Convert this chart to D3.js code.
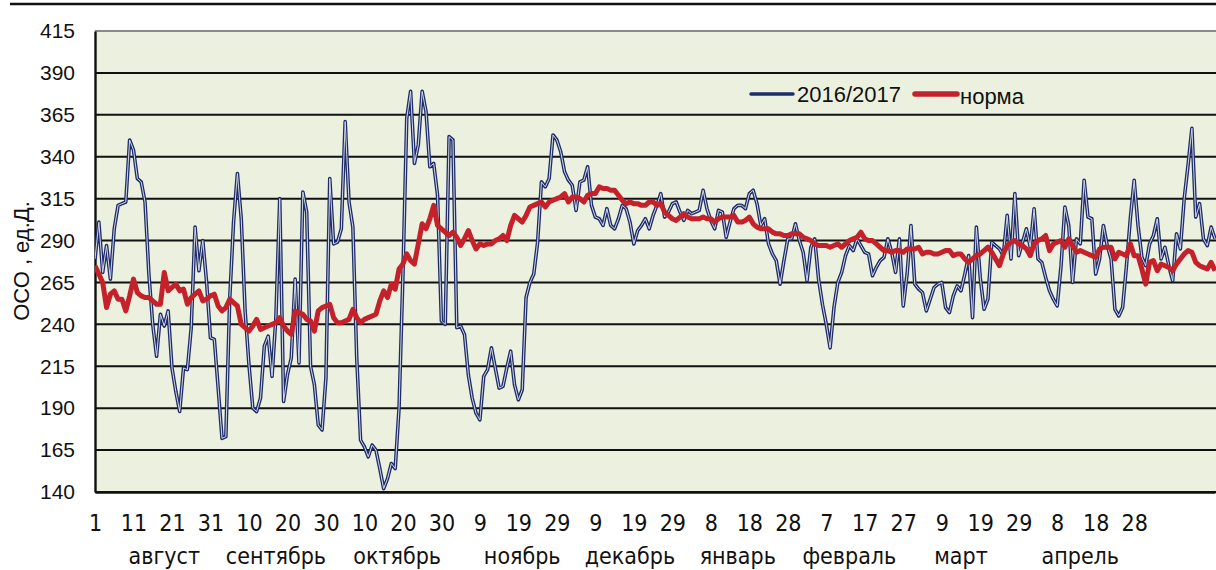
<!DOCTYPE html>
<html>
<head>
<meta charset="utf-8">
<script src="https://cdn.jsdelivr.net/npm/d3@7"></script>
<style>
  html, body { margin: 0; padding: 0; background: #fff; }
  svg { display: block; }
  text { font-family: "Liberation Sans", Arial, sans-serif; fill: #111; }
  .narrow { font-family: "Liberation Sans Narrow", "DejaVu Sans Condensed", "Liberation Sans", sans-serif; }
</style>
</head>
<body>
<svg id="chart" width="1216" height="570"></svg>
<script>
// total ozone, daily values from 1 August 2016
const season = [
  279, 301, 271, 287, 267, 297, 311, 312, 313, 350, 344, 327, 325, 313, 270, 240, 221, 246, 239, 248,
  214, 200, 188, 214, 213, 238, 298, 272, 290, 265, 232, 231, 202, 172, 173, 255, 301, 330, 303, 248,
  216, 190, 188, 196, 227, 233, 209, 244, 315, 194, 210, 220, 267, 217, 319, 307, 215, 204, 180, 177,
  208, 327, 288, 289, 297, 361, 313, 298, 220, 171, 167, 161, 168, 165, 154, 142, 148, 157, 154, 190,
  269, 363, 379, 336, 347, 379, 367, 334, 336, 317, 242, 240, 352, 350, 238, 239, 234, 210, 196, 187,
  183, 209, 213, 226, 214, 202, 203, 214, 224, 204, 195, 201, 256, 265, 270, 289, 325, 322, 327, 353,
  350, 343, 331, 326, 323, 308, 325, 326, 334, 311, 304, 303, 299, 309, 299, 297, 303, 311, 309, 301,
  288, 296, 299, 303, 297, 305, 311, 318, 304, 307, 312, 313, 307, 302, 308, 306, 307, 308, 320, 309,
  302, 297, 308, 307, 292, 301, 309, 311, 311, 309, 318, 320, 312, 299, 303, 288, 282, 278, 264, 278,
  291, 291, 300, 290, 283, 266, 286, 291, 267, 252, 240, 226, 250, 265, 271, 281, 287, 284, 291, 287,
  283, 282, 269, 274, 278, 280, 291, 283, 271, 291, 251, 270, 299, 264, 261, 259, 248, 255, 262, 264,
  265, 250, 247, 257, 263, 260, 270, 281, 244, 298, 268, 249, 255, 289, 287, 285, 281, 305, 279, 318,
  281, 289, 297, 286, 309, 279, 277, 268, 260, 255, 251, 275, 310, 299, 265, 291, 288, 326, 304, 303,
  270, 279, 299, 287, 279, 249, 245, 250, 275, 303, 326, 299, 280, 275, 288, 293, 303, 279, 286, 275,
  266, 294, 285, 315, 335, 357, 304, 312, 291, 287, 298, 291
];

const norm = [
  275, 270, 265, 250, 258, 260, 255, 255, 248, 257, 267, 259, 257, 256, 256, 254, 252, 252, 271, 260,
  262, 264, 260, 261, 252, 256, 258, 260, 254, 255, 257, 258, 251, 248, 250, 255, 253, 251, 240, 238,
  236, 239, 243, 237, 238, 239, 240, 241, 244, 239, 236, 234, 248, 247, 246, 243, 242, 236, 248, 250,
  251, 252, 244, 241, 241, 242, 243, 249, 244, 241, 243, 244, 245, 246, 254, 260, 256, 264, 261, 273,
  276, 282, 278, 276, 288, 300, 297, 303, 311, 299, 297, 295, 293, 295, 292, 287, 291, 296, 290, 285,
  288, 287, 288, 288, 290, 291, 293, 290, 299, 305, 303, 301, 305, 310, 311, 312, 313, 310, 313, 314,
  315, 316, 318, 313, 316, 316, 315, 313, 317, 318, 318, 322, 321, 321, 320, 320, 317, 314, 312, 313,
  312, 312, 311, 311, 313, 313, 311, 312, 307, 305, 303, 302, 304, 306, 304, 303, 303, 303, 304, 303,
  303, 301, 303, 304, 304, 304, 305, 301, 301, 302, 304, 300, 298, 297, 297, 297, 295, 294, 294, 293,
  293, 294, 294, 294, 292, 291, 290, 288, 287, 287, 287, 286, 287, 288, 286, 288, 290, 291, 292, 295,
  291, 290, 290, 288, 286, 284, 284, 283, 284, 284, 283, 285, 285, 285, 286, 282, 283, 283, 282, 282,
  283, 284, 284, 281, 282, 282, 279, 277, 279, 281, 282, 284, 286, 283, 279, 275, 282, 287, 289, 290,
  288, 287, 285, 281, 288, 290, 291, 293, 284, 288, 289, 290, 286, 291, 287, 283, 284, 283, 282, 281,
  280, 285, 286, 286, 286, 279, 283, 282, 281, 288, 281, 281, 273, 264, 277, 278, 272, 276, 275, 274,
  272, 276, 279, 282, 284, 283, 277, 275, 274, 273, 277, 272
];

const yTicks = [140, 165, 190, 215, 240, 265, 290, 315, 340, 365, 390, 415];
const dayLabels = [1, 11, 21, 31, 10, 20, 30, 10, 20, 30, 9, 19, 29, 9, 19, 29, 8, 18, 28, 7, 17, 27, 9, 19, 29, 8, 18, 28];
const months = ['август', 'сентябрь', 'октябрь', 'ноябрь', 'декабрь', 'январь', 'февраль', 'март', 'апрель'];
const monthDay = [18, 47, 78.5, 111, 139, 167, 196, 225, 256];
const seriesNames = ['2016/2017', 'норма'];

const svg = d3.select('#chart');
const plotLeft = 95, plotRight = 1216, plotTop = 31, plotBottom = 492;

const x = d3.scaleLinear().domain([0, season.length - 1]).range([plotLeft, plotRight - 1]);
const y = d3.scaleLinear().domain([140, 415]).range([plotBottom, plotTop]);

// rule above the chart
svg.append('line')
  .attr('x1', 10).attr('x2', 1216).attr('y1', 4).attr('y2', 4)
  .attr('stroke', '#111').attr('stroke-width', 2.5);

svg.append('rect')
  .attr('x', plotLeft).attr('y', plotTop)
  .attr('width', plotRight - plotLeft).attr('height', plotBottom - plotTop)
  .attr('fill', '#ebf1de');

svg.append('clipPath').attr('id', 'plot')
  .append('rect')
  .attr('x', plotLeft).attr('y', plotTop - 2)
  .attr('width', plotRight - plotLeft).attr('height', plotBottom - plotTop + 4);

svg.append('g')
  .selectAll('line')
  .data(yTicks)
  .enter()
    .append('line')
    .attr('x1', plotLeft).attr('x2', plotRight)
    .attr('y1', d => y(d)).attr('y2', d => y(d))
    .attr('stroke', d => d === 415 ? '#8a8a8a' : '#111')
    .attr('stroke-width', d => d === 415 ? 2 : 2);

const yAxis = d3.axisLeft(y).tickValues(yTicks).tickSize(0).tickPadding(20);
svg.append('g')
  .attr('transform', 'translate(' + plotLeft + ',0)')
  .call(yAxis)
  .call(g => g.select('.domain').attr('stroke', '#111').attr('stroke-width', 2.4))
  .call(g => g.selectAll('text')
    .style('font-family', '"Liberation Sans", Arial, sans-serif')
    .style('font-size', '21px').attr('fill', '#111'));

const xAxis = d3.axisBottom(x)
  .tickValues(dayLabels.map((d, i) => i * 10))
  .tickFormat((d, i) => dayLabels[i])
  .tickSize(0).tickPadding(23);
svg.append('g')
  .attr('transform', 'translate(0,' + plotBottom + ')')
  .call(xAxis)
  .call(g => g.select('.domain').attr('stroke', '#111').attr('stroke-width', 2.4))
  .call(g => g.selectAll('text')
    .attr('class', 'narrow')
    .style('font-size', '23px').attr('fill', '#111'));

svg.append('g')
  .selectAll('text')
  .data(months)
  .enter()
    .append('text')
    .attr('class', 'narrow')
    .attr('x', (d, i) => x(monthDay[i]))
    .attr('y', 564)
    .attr('text-anchor', 'middle')
    .style('font-size', '23px')
    .text(d => d);

svg.append('text')
  .attr('transform', 'translate(29,261) rotate(-90)')
  .attr('text-anchor', 'middle')
  .style('font-size', '22px')
  .text('ОСО , ед.Д.');

const line = d3.line()
  .x((d, i) => x(i))
  .y(d => y(d));

const plot = svg.append('g').attr('clip-path', 'url(#plot)');

// double line for the season
plot.append('path')
  .datum(season)
  .attr('d', line)
  .attr('fill', 'none')
  .attr('stroke', '#1f2c6a')
  .attr('stroke-width', 3.6)
  .attr('stroke-linejoin', 'round');
plot.append('path')
  .datum(season)
  .attr('d', line)
  .attr('fill', 'none')
  .attr('stroke', '#d3d8e6')
  .attr('stroke-width', 1)
  .attr('stroke-linejoin', 'round');

plot.append('path')
  .datum(norm)
  .attr('d', line)
  .attr('fill', 'none')
  .attr('stroke', '#c4212b')
  .attr('stroke-width', 5)
  .attr('stroke-linejoin', 'round');

// legend
const legend = svg.append('g');
legend.append('line')
  .attr('x1', 751).attr('x2', 793).attr('y1', 94).attr('y2', 94)
  .attr('stroke', '#1f2c6a').attr('stroke-width', 3.5).attr('stroke-linecap', 'round');
legend.append('text')
  .attr('x', 797).attr('y', 102)
  .style('font-size', '22px')
  .text(seriesNames[0]);
legend.append('line')
  .attr('x1', 915).attr('x2', 957).attr('y1', 94).attr('y2', 94)
  .attr('stroke', '#c4212b').attr('stroke-width', 5.5).attr('stroke-linecap', 'round');
legend.append('text')
  .attr('x', 960).attr('y', 104)
  .style('font-size', '22px')
  .text(seriesNames[1]);
</script>
</body>
</html>
